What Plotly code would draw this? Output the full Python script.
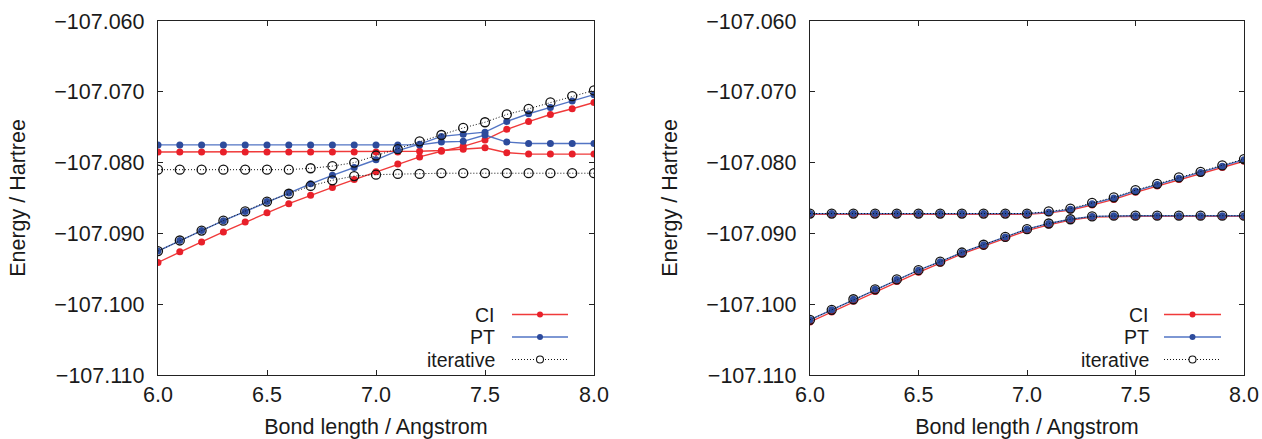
import plotly.graph_objects as go

# ---------------- data ----------------
bond_length = [6.0, 6.1, 6.2, 6.3, 6.4, 6.5, 6.6, 6.7, 6.8, 6.9, 7.0,
               7.1, 7.2, 7.3, 7.4, 7.5, 7.6, 7.7, 7.8, 7.9, 8.0]

# Left panel
ci_left_a = [-107.0785, -107.0785, -107.0785, -107.0785, -107.0785, -107.0785, -107.0785,
             -107.0785, -107.0785, -107.0785, -107.0785, -107.0785, -107.0784, -107.0783,
             -107.0781, -107.0779, -107.0786, -107.0788, -107.0788, -107.0788, -107.0788]
ci_left_b = [-107.0941, -107.0926, -107.0912, -107.0898, -107.0884, -107.0871, -107.0858,
             -107.0846, -107.0835, -107.0824, -107.0813, -107.0802, -107.0792, -107.0784,
             -107.0777, -107.0768, -107.0753, -107.0742, -107.0732, -107.0724, -107.0715]
pt_left_a = [-107.0775, -107.0775, -107.0775, -107.0775, -107.0775, -107.0775, -107.0775,
             -107.0775, -107.0775, -107.0775, -107.0775, -107.0775, -107.0775, -107.0771,
             -107.0770, -107.0761, -107.0771, -107.0773, -107.0773, -107.0773, -107.0773]
pt_left_b = [-107.0925, -107.0910, -107.0896, -107.0882, -107.0869, -107.0855, -107.0843,
             -107.0830, -107.0818, -107.0807, -107.0796, -107.0783, -107.0774, -107.0763,
             -107.0760, -107.0757, -107.0742, -107.0731, -107.0722, -107.0713, -107.0704]
it_left_a = [-107.0810, -107.0810, -107.0810, -107.0810, -107.0810, -107.0810, -107.0810,
             -107.0808, -107.0805, -107.0800, -107.0790, -107.0781, -107.0770, -107.0761,
             -107.0751, -107.0743, -107.0732, -107.0724, -107.0715, -107.0706, -107.0698]
it_left_b = [-107.0925, -107.0910, -107.0896, -107.0882, -107.0869, -107.0855, -107.0844,
             -107.0833, -107.0825, -107.0819, -107.0817, -107.0816, -107.0816, -107.0815,
             -107.0815, -107.0815, -107.0815, -107.0815, -107.0815, -107.0815, -107.0815]

# Right panel
ci_right_a = [-107.0873, -107.0873, -107.0873, -107.0873, -107.0873, -107.0873, -107.0873,
              -107.0873, -107.0873, -107.0873, -107.0873, -107.0871, -107.0867, -107.0860,
              -107.0852, -107.0842, -107.0833, -107.0824, -107.0815, -107.0807, -107.0798]
ci_right_b = [-107.1025, -107.1011, -107.0996, -107.0982, -107.0968, -107.0955, -107.0942,
              -107.0929, -107.0918, -107.0907, -107.0896, -107.0888, -107.0881, -107.0877,
              -107.0876, -107.0876, -107.0876, -107.0876, -107.0876, -107.0876, -107.0876]
pt_right_a = [-107.0872, -107.0872, -107.0872, -107.0872, -107.0872, -107.0872, -107.0872,
              -107.0872, -107.0872, -107.0872, -107.0872, -107.0870, -107.0866, -107.0858,
              -107.0850, -107.0840, -107.0831, -107.0822, -107.0814, -107.0805, -107.0796]
pt_right_b = [-107.1022, -107.1008, -107.0993, -107.0979, -107.0965, -107.0952, -107.0940,
              -107.0927, -107.0916, -107.0905, -107.0894, -107.0886, -107.0880, -107.0876,
              -107.0875, -107.0875, -107.0875, -107.0875, -107.0875, -107.0875, -107.0875]
it_right_a = [-107.0872, -107.0872, -107.0872, -107.0872, -107.0872, -107.0872, -107.0872,
              -107.0872, -107.0872, -107.0872, -107.0872, -107.0869, -107.0865, -107.0857,
              -107.0849, -107.0839, -107.0830, -107.0821, -107.0813, -107.0804, -107.0795]
it_right_b = [-107.1022, -107.1008, -107.0993, -107.0979, -107.0965, -107.0952, -107.0940,
              -107.0927, -107.0916, -107.0905, -107.0894, -107.0886, -107.0880, -107.0876,
              -107.0875, -107.0875, -107.0875, -107.0875, -107.0875, -107.0875, -107.0875]

series_names = ["CI", "PT", "iterative"]
x_ticks = [6.0, 6.5, 7.0, 7.5, 8.0]
y_ticks = [-107.110, -107.100, -107.090, -107.080, -107.070, -107.060]

# ---------------- styling ----------------
W, H = 1262, 439
ML, MR, MT, MB = 158, 18, 21, 64
PW, PH = W - ML - MR, H - MT - MB
FONT = "Liberation Sans, Arial, Helvetica, sans-serif"
FS = 21.5
FS_LEG = 19.5
TXT = "#1a1a1a"
AX = "#222222"

RED_M, RED_L = "#e8202a", "#f03a3a"
BLUE_M, BLUE_L = "#2d4b9c", "#5274c4"
BLACK = "#111111"

style = {
    "CI": dict(mode="lines+markers", line=dict(color=RED_L, width=1.4),
               marker=dict(color=RED_M, size=7, symbol="circle")),
    "PT": dict(mode="lines+markers", line=dict(color=BLUE_L, width=1.4),
               marker=dict(color=BLUE_M, size=7, symbol="circle")),
    "iterative": dict(mode="lines+markers", line=dict(color=BLACK, width=1, dash="1px,2px"),
                      marker=dict(color=BLACK, size=9, symbol="circle-open",
                                  line=dict(width=1.3))),
}

fig = go.Figure()

panels = [
    ("x", "y", [("CI", ci_left_a), ("CI", ci_left_b), ("PT", pt_left_a), ("PT", pt_left_b),
                ("iterative", it_left_a), ("iterative", it_left_b)]),
    ("x2", "y2", [("CI", ci_right_a), ("CI", ci_right_b), ("PT", pt_right_a), ("PT", pt_right_b),
                  ("iterative", it_right_a), ("iterative", it_right_b)]),
]
for xa, ya, traces in panels:
    for name, vals in traces:
        s = style[name]
        fig.add_trace(go.Scatter(x=bond_length, y=vals, name=name, xaxis=xa, yaxis=ya,
                                 showlegend=False, mode=s["mode"], line=s["line"],
                                 marker=s["marker"]))

left_px = (158, 594)
right_px = (810, 1244)


def dom(px):
    return [(px[0] - ML) / PW, (px[1] - ML) / PW]


axis_common = dict(showline=True, linecolor=AX, linewidth=1.3, mirror="ticks",
                   ticks="inside", ticklen=5, tickwidth=1.2, tickcolor=AX,
                   showgrid=False, zeroline=False, automargin=False,
                   tickfont=dict(family=FONT, size=FS, color=TXT))

xcommon = dict(axis_common, range=[6.0, 8.0], tickvals=x_ticks, tickformat=".1f",
               ticklabelstandoff=0,
               title=dict(text="Bond length / Angstrom", standoff=19,
                          font=dict(family=FONT, size=FS, color=TXT)))
ycommon = dict(axis_common, range=[-107.110, -107.060], tickvals=y_ticks, tickformat=".3f",
               ticklabelstandoff=8,
               title=dict(text="Energy / Hartree", standoff=22,
                          font=dict(family=FONT, size=FS, color=TXT)))

fig.update_layout(
    width=W, height=H,
    margin=dict(l=ML, r=MR, t=MT, b=MB),
    paper_bgcolor="white", plot_bgcolor="white",
    xaxis=dict(xcommon, domain=dom(left_px), anchor="y"),
    yaxis=dict(ycommon, domain=[0, 1], anchor="x"),
    xaxis2=dict(xcommon, domain=dom(right_px), anchor="y2"),
    yaxis2=dict(ycommon, domain=[0, 1], anchor="x2"),
    showlegend=False,
)

# ---------------- manual legend (text left, sample right, like the original) ----------------
def px_x(p):
    return (p - ML) / PW


def px_y(p):
    return (H - MB - p) / PH


legend_rows = [("CI", 314.5), ("PT", 337), ("iterative", 359.5)]
for text_right, line_l, line_r in [(496, 512, 568), (1150, 1164, 1221)]:
    for name, ypx in legend_rows:
        fig.add_annotation(xref="paper", yref="paper", x=px_x(text_right), y=px_y(ypx),
                           text=name, showarrow=False, xanchor="right", yanchor="middle",
                           borderpad=0,
                           font=dict(family=FONT, size=FS_LEG, color=TXT))
        s = style[name]
        fig.add_shape(type="line", xref="paper", yref="paper",
                      x0=px_x(line_l), x1=px_x(line_r), y0=px_y(ypx), y1=px_y(ypx),
                      line=dict(color=s["line"]["color"], width=s["line"]["width"],
                                dash=s["line"].get("dash", "solid")))
        cx = (line_l + line_r) / 2
        if name == "iterative":
            r = 3.5
            fig.add_shape(type="circle", xref="paper", yref="paper",
                          x0=px_x(cx - r), x1=px_x(cx + r), y0=px_y(ypx + r), y1=px_y(ypx - r),
                          line=dict(color=BLACK, width=1.1), fillcolor="white")
        else:
            r = 3
            fig.add_shape(type="circle", xref="paper", yref="paper",
                          x0=px_x(cx - r), x1=px_x(cx + r), y0=px_y(ypx + r), y1=px_y(ypx - r),
                          line=dict(color=s["marker"]["color"], width=0),
                          fillcolor=s["marker"]["color"])

fig.write_html("out.html")
